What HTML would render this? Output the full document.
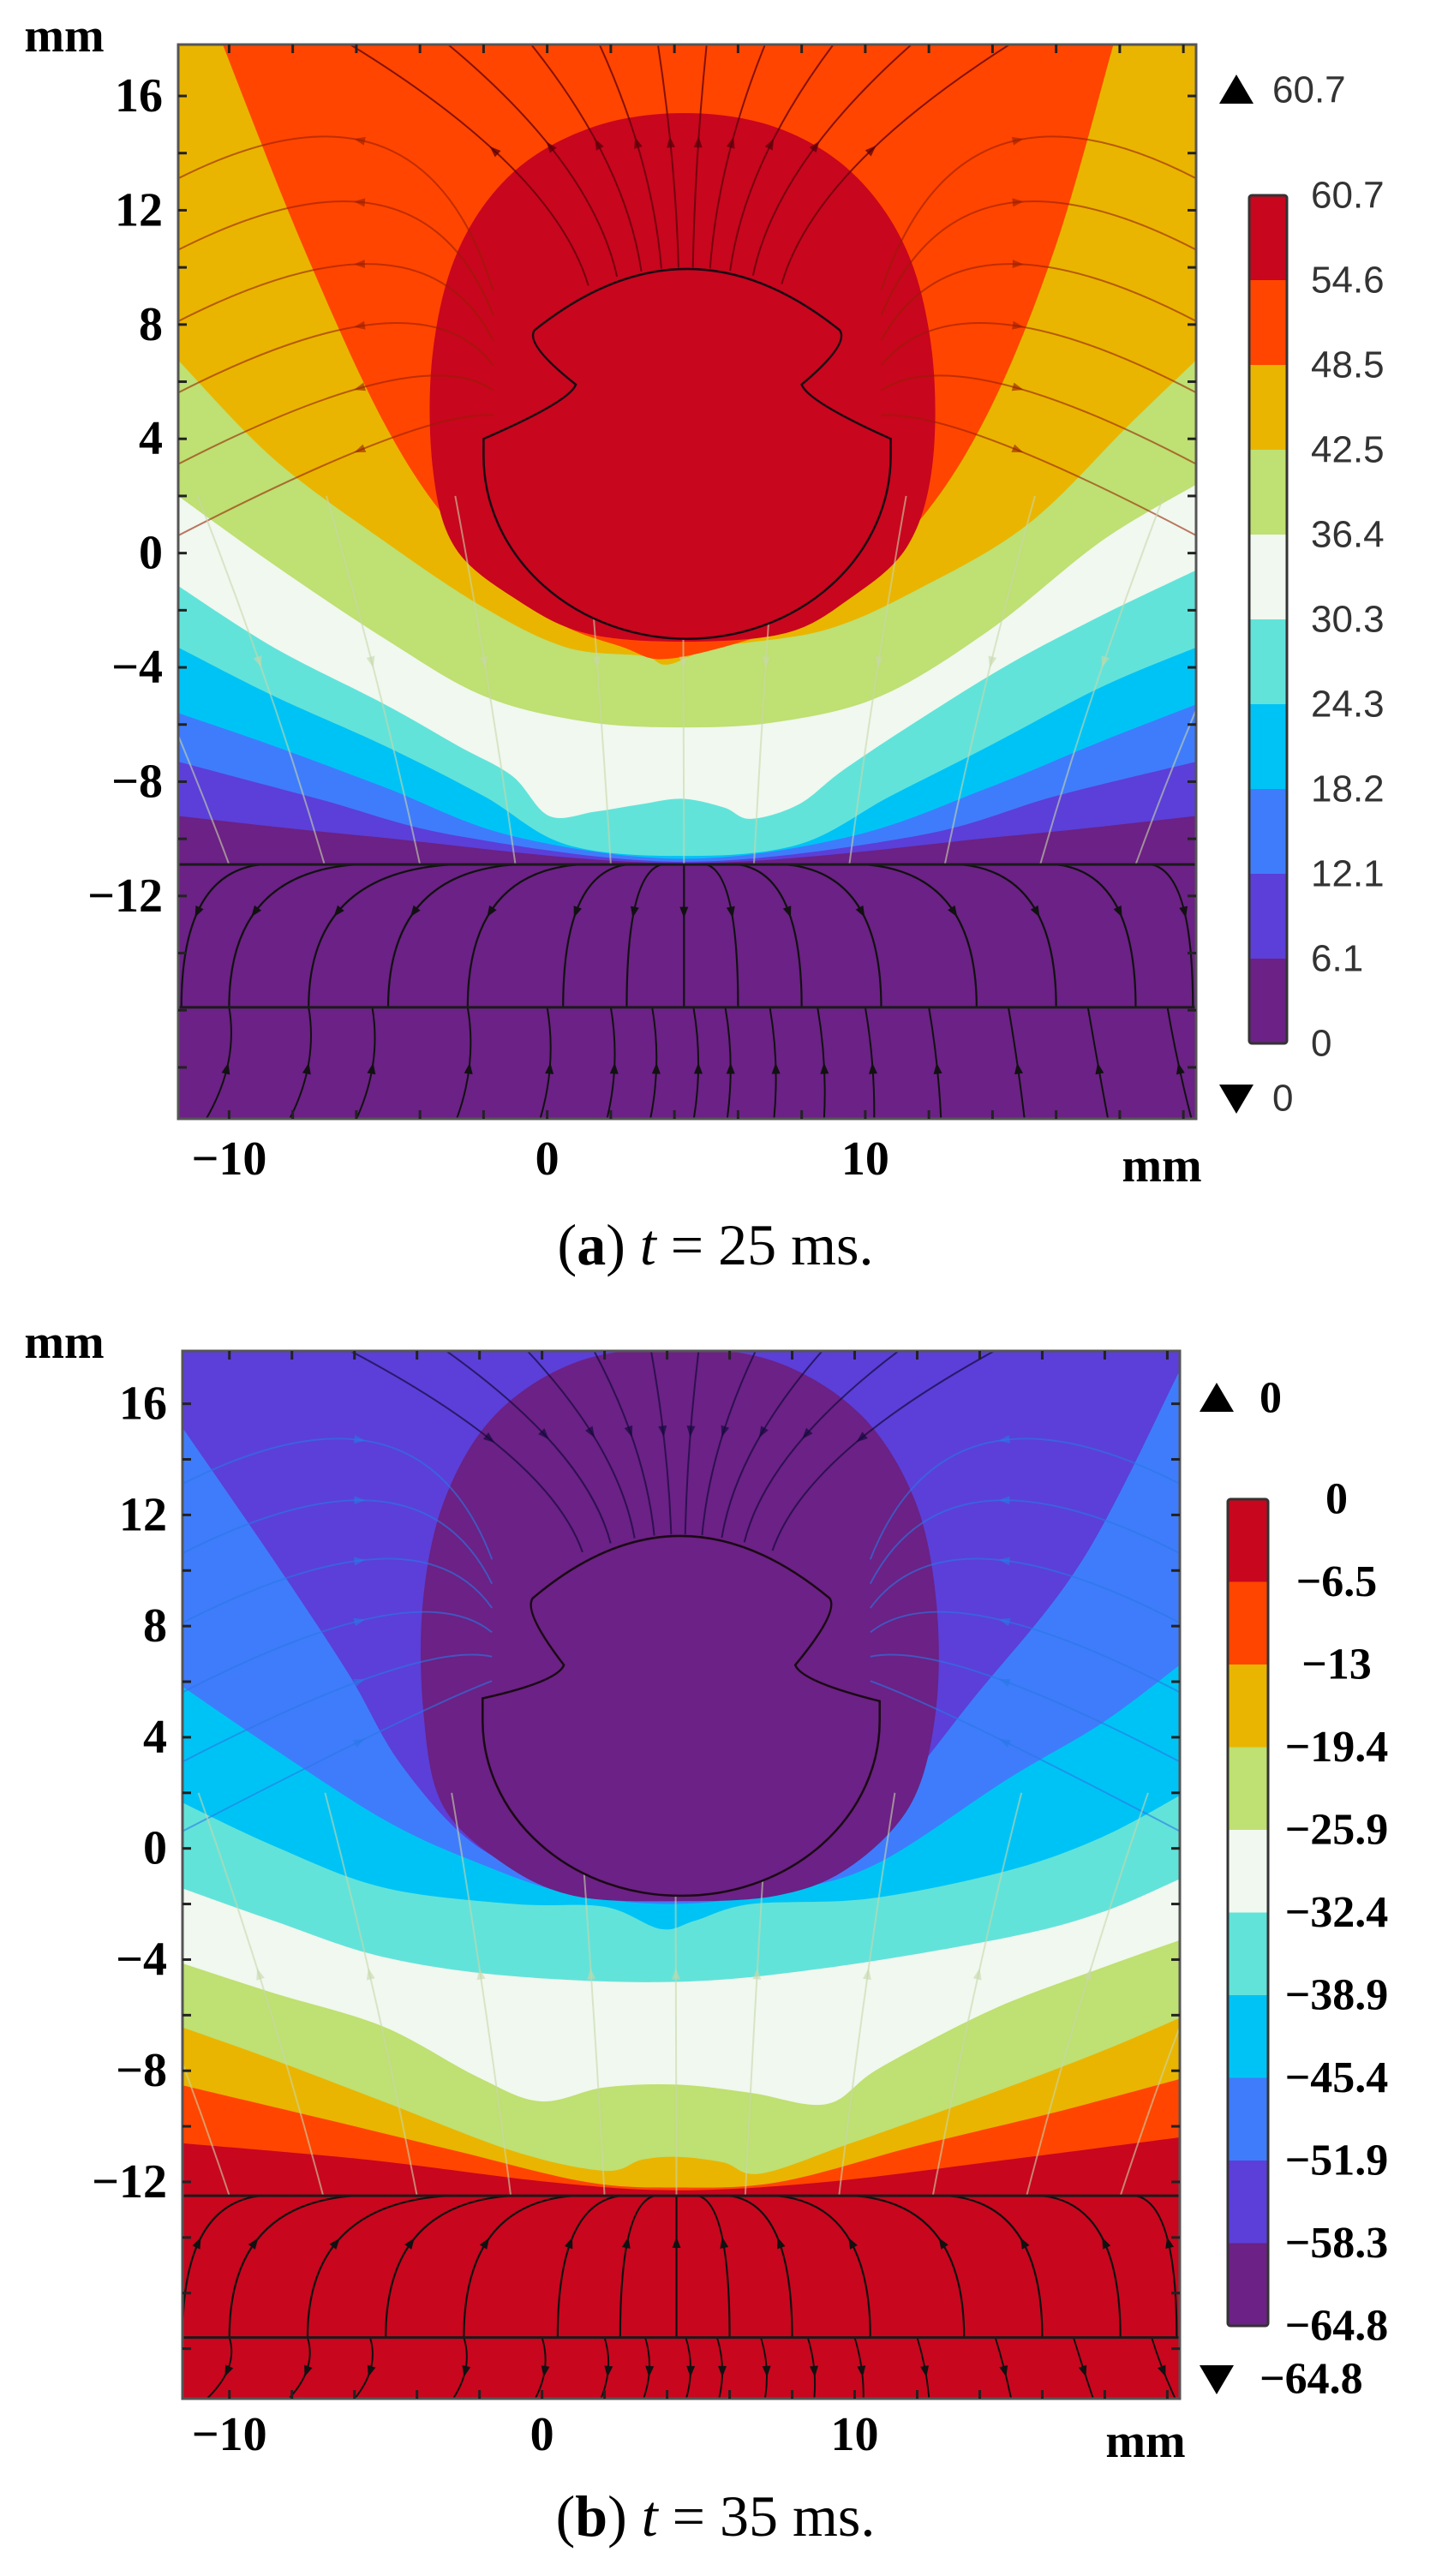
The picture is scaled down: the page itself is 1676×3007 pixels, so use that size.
<!DOCTYPE html>
<html><head><meta charset="utf-8"><style>
html,body{margin:0;padding:0;background:#fff;}
svg{display:block;}
</style></head><body>
<svg id="fig" width="1676" height="3007" viewBox="0 0 1676 3007" xmlns="http://www.w3.org/2000/svg"></svg>
<script>
// ---------- data: panel (a) ----------
const levelsA = ["60.7","54.6","48.5","42.5","36.4","30.3","24.3","18.2","12.1","6.1","0"];
const colorsA = ["#6b2185","#5b3fd8","#3f7cfb","#00c3f5","#62e3da","#f0f8ef","#bfe072","#e9b500","#ff4500","#c8061e"]; // low -> high
const bandA1 = [[-11.6,-9.2],[-5.7,-9.9],[4.3,-10.85],[14.5,-9.9],[20.4,-9.2]];
const bandA2 = [[-11.6,-7.3],[-7.2,-8.6],[-2.8,-9.9],[4.3,-10.8],[11.6,-9.9],[16,-8.5],[20.4,-7.3]];
const bandA3 = [[-11.6,-5.6],[-8.6,-6.75],[-5.1,-8.2],[-1.1,-9.9],[4.3,-10.7],[9.6,-9.9],[13.9,-8.2],[17.4,-6.6],[20.4,-5.3]];
const bandA4 = [[-11.6,-3.3],[-8.6,-5.0],[-5.1,-6.75],[-2,-8.5],[0.6,-10.2],[4.25,-10.6],[7.9,-10.2],[10.8,-8.5],[13.9,-6.75],[17.4,-4.7],[20.4,-3.3]];
const bandA5 = [[-11.6,-1.15],[-8.6,-3.3],[-5.1,-5.3],[-2.8,-6.75],[-1.1,-7.8],[0.06,-9.2],[1.5,-9.05],[2.9,-8.8],[4.25,-8.6],[5.55,-8.9],[6.4,-9.3],[7.9,-8.8],[9.3,-7.6],[11.6,-5.9],[14.5,-3.9],[17.4,-2.2],[20.4,-0.6]];
const bandA6 = [[-11.6,2.0],[-8.6,-0.4],[-5.1,-3.0],[-2,-5.0],[1.2,-5.9],[4.25,-6.1],[7.3,-5.9],[10.5,-5.0],[13.9,-2.7],[17.4,0.4],[20.4,2.4]];
const bandA7 = [[-11.6,6.75],[-8.6,3.3],[-5.1,0.4],[-2,-1.9],[0.6,-3.3],[3,-3.6],[3.8,-3.9],[5.3,-3.3],[8.7,-2.7],[11.6,-1.3],[15.1,1.0],[18.3,4.5],[20.4,6.75]];
const bandA8 = [[-10.2,17.8],[-7.7,10.8],[-5.1,4.5],[-2.8,0.7],[0,-2.2],[2.4,-3.3],[3.8,-3.7],[6.7,-2.9],[8.7,-1.9],[11.6,1],[13.9,5],[16,10.8],[17.8,17.8]];
const blobA = [[4.3,15.4],[7.2,14.9],[9.6,13.3],[11.3,10.6],[12.1,7],[12.1,3],[11.3,0.2],[9.5,-1.6],[7.5,-2.8],[4.3,-3.1],[1.2,-2.8],[-1,-1.6],[-2.9,0.2],[-3.6,3],[-3.6,7],[-2.8,10.6],[-1.1,13.3],[1.4,14.9]];
const objA = {cx:4.4, cy:3.4, r:6.4, top:10.0, tl:[-0.4,7.8], ti:[0.9,5.9], lc:[-2.0,4.0], tr:[9.2,7.8], ri:[8.0,5.9], rc:[10.8,4.0]};
const linesA = [-10.9,-15.9];

// ---------- data: panel (b) ----------
const levelsB = ["0","\u22126.5","\u221213","\u221219.4","\u221225.9","\u221232.4","\u221238.9","\u221245.4","\u221251.9","\u221258.3","\u221264.8"];
const colorsB = ["#c8061e","#ff4500","#e9b500","#bfe072","#f0f8ef","#62e3da","#00c3f5","#3f7cfb","#5b3fd8","#6b2185"];
const colorsBbar = ["#c8061e","#ff4500","#e9b500","#bfe072","#f0f8ef","#62e3da","#00c3f5","#3f7cfb","#5b3fd8","#6b2185"];
const bandB1 = [[-11.6,-10.6],[-5.6,-11.2],[0.2,-12.0],[4.35,-12.3],[9.1,-12.0],[14.9,-11.2],[20.4,-10.4]];
const bandB2 = [[-11.6,-8.5],[-7.1,-9.7],[-2.7,-10.9],[1.4,-12.0],[4.35,-12.2],[7.6,-12.0],[12,-10.7],[16.4,-9.5],[20.4,-8.3]];
const bandB3 = [[-11.6,-6.4],[-8.6,-7.6],[-5.1,-9.1],[-0.9,-10.9],[2,-11.6],[3.2,-11.2],[4.35,-11.1],[5.8,-11.3],[7,-11.7],[9.9,-10.6],[14.4,-8.8],[17.9,-7.3],[20.4,-6.1]];
const bandB4 = [[-11.6,-4.1],[-8.6,-5.2],[-5.1,-6.4],[-2.1,-8.2],[-0.06,-9.1],[2,-8.6],[4.35,-8.5],[6.7,-8.8],[9.1,-9.2],[10.8,-7.9],[14.4,-5.8],[17.9,-4.3],[20.4,-3.3]];
const bandB5 = [[-11.6,-1.4],[-8.6,-2.6],[-5.1,-3.9],[-0.9,-4.6],[4.35,-4.8],[9.1,-4.3],[14.9,-3.2],[17.9,-2.3],[20.4,-1.1]];
const bandB6 = [[-11.6,1.7],[-8.6,0.1],[-5.1,-1.4],[-0.9,-2.0],[2,-2.1],[3.8,-2.9],[4.9,-2.6],[6.7,-2.0],[10.5,-1.8],[14.9,-0.8],[17.9,0.4],[20.4,1.9]];
const bandB7 = [[-11.6,5.9],[-8.6,3.6],[-5,1.0],[-2.1,-0.5],[0.8,-1.6],[4.3,-2.0],[7.9,-1.5],[10.8,-0.5],[14.9,2.5],[17.9,4.5],[20.4,6.6]];
const bandB8 = [[-11.6,15.3],[-8.6,10.4],[-6.2,6.3],[-4.5,3.0],[-2.1,0.1],[0.8,-1.2],[4.3,-1.5],[7.9,-1.1],[10.8,1.3],[13.8,5.4],[17.3,10.4],[20.4,17.2]];
const blobB = [[4.3,18.0],[7.5,17.5],[10.2,15.6],[11.9,12.6],[12.6,9],[12.6,5],[11.8,1.6],[9.8,-0.7],[7.5,-1.7],[4.3,-1.9],[1,-1.7],[-1.3,-0.5],[-3.2,1.6],[-3.8,5],[-3.8,9],[-3.1,12.6],[-1.5,15.6],[1.1,17.5]];
const objB = {cx:4.4, cy:4.6, r:6.3, top:11.3, tl:[-0.3,9.0], ti:[0.7,6.6], lc:[-1.9,5.4], tr:[9.2,9.0], ri:[8.1,6.6], rc:[10.8,5.3]};
const linesB = [-12.5,-17.6];

const xTicks = [-10,0,10];
const yTicks = [16,12,8,4,0,-4,-8,-12];
const fanStartA = [-9,-6,-3,-1,1,2.5,3.6,4.3,5,6,7.5,10,13,16,19];
const fanEndA   = [-11.5,-10,-7.5,-5,-2.5,0.5,2.5,4.3,6,8,10.5,13.5,16,18.5,20.3];
const stripXA = [-10,-7.5,-5.5,-2.5,0,2,3.3,4.6,5.6,7,8.5,10,12,14.5,17,19.5];
const topEndA = [-2.5,-0.5,1.2,2.6,3.8,4.8,6,7.4,9,11];
const sideArcYA = [16,13.5,11,8.5,6,3.5];

const NS="http://www.w3.org/2000/svg";
const svg=document.getElementById('fig');
function el(tag,attrs,parent){const e=document.createElementNS(NS,tag);for(const k in attrs)e.setAttribute(k,attrs[k]);(parent||svg).appendChild(e);return e;}

function makeAxes(p){
  p.sx=v=>p.left+(v-p.xmin)/(p.xmax-p.xmin)*(p.right-p.left);
  p.sy=v=>p.top+(p.ymax-v)/(p.ymax-p.ymin)*(p.bottom-p.top);
  return p;
}
function smoothPath(p,pts){
  const P=pts.map(q=>[p.sx(q[0]),p.sy(q[1])]);
  let d=`M${P[0][0]},${P[0][1]}`;
  for(let i=0;i<P.length-1;i++){
    const p0=P[Math.max(0,i-1)],p1=P[i],p2=P[i+1],p3=P[Math.min(P.length-1,i+2)];
    const c1=[p1[0]+(p2[0]-p0[0])/6,p1[1]+(p2[1]-p0[1])/6];
    const c2=[p2[0]-(p3[0]-p1[0])/6,p2[1]-(p3[1]-p1[1])/6];
    d+=` C${c1[0]},${c1[1]} ${c2[0]},${c2[1]} ${p2[0]},${p2[1]}`;
  }
  return d;
}
function regionAbove(p,pts){
  const d=smoothPath(p,pts);
  const last=pts[pts.length-1],first=pts[0];
  return d+` L${p.sx(p.xmax)+5},${p.sy(last[1])} L${p.sx(p.xmax)+5},${p.top-40} L${p.sx(p.xmin)-5},${p.top-40} L${p.sx(p.xmin)-5},${p.sy(first[1])} Z`;
}
function closedSmooth(p,pts){
  const P=pts.map(q=>[p.sx(q[0]),p.sy(q[1])]);const n=P.length;
  let d=`M${P[0][0]},${P[0][1]}`;
  for(let i=0;i<n;i++){
    const p0=P[(i-1+n)%n],p1=P[i],p2=P[(i+1)%n],p3=P[(i+2)%n];
    d+=` C${p1[0]+(p2[0]-p0[0])/6},${p1[1]+(p2[1]-p0[1])/6} ${p2[0]-(p3[0]-p1[0])/6},${p2[1]-(p3[1]-p1[1])/6} ${p2[0]},${p2[1]}`;
  }
  return d+'Z';
}
function objectPath(p,o){
  const X=p.sx,Y=p.sy;
  const rpx=o.r*(p.right-p.left)/(p.xmax-p.xmin), rpy=o.r*(p.bottom-p.top)/(p.ymax-p.ymin);
  let d=`M${X(o.tl[0])},${Y(o.tl[1])}`;
  d+=` Q${X(o.cx)},${Y(o.top+(o.top-o.tl[1])*0.95)} ${X(o.tr[0])},${Y(o.tr[1])}`;
  d+=` Q${X(o.tr[0]+0.3)},${Y(o.tr[1]-0.5)} ${X(o.ri[0])},${Y(o.ri[1])}`;
  d+=` Q${X(o.ri[0]+0.2)},${Y(o.ri[1]-0.6)} ${X(o.rc[0])},${Y(o.rc[1])}`;
  d+=` L${X(o.rc[0])},${Y(o.cy)}`;
  d+=` A${rpx},${rpy} 0 0 1 ${X(o.cx)},${Y(o.cy-o.r)}`;
  d+=` A${rpx},${rpy} 0 0 1 ${X(o.lc[0])},${Y(o.cy)}`;
  d+=` L${X(o.lc[0])},${Y(o.lc[1])}`;
  d+=` Q${X(o.ti[0]-0.2)},${Y(o.ti[1]-0.6)} ${X(o.ti[0])},${Y(o.ti[1])}`;
  d+=` Q${X(o.tl[0]-0.3)},${Y(o.tl[1]-0.5)} ${X(o.tl[0])},${Y(o.tl[1])} Z`;
  return d;
}
function arrowAt(g,x,y,ang,col,name){
  const a=el('path',{d:`M${x+7*Math.cos(ang)},${y+7*Math.sin(ang)} L${x-6*Math.cos(ang)+5*Math.sin(ang)},${y-6*Math.sin(ang)-5*Math.cos(ang)} L${x-6*Math.cos(ang)-5*Math.sin(ang)},${y-6*Math.sin(ang)+5*Math.cos(ang)} Z`,fill:col},g);
  
  
}
function quadLine(g,p,x1,y1,cx,cy,x2,y2,col,w,name,arrowDir){
  const d=`M${p.sx(x1)},${p.sy(y1)} Q${p.sx(cx)},${p.sy(cy)} ${p.sx(x2)},${p.sy(y2)}`;
  const l=el('path',{d:d,fill:'none',stroke:col,'stroke-width':w},g);
  
  
  const t=0.55;const X=(a,b,c)=>(1-t)*(1-t)*a+2*(1-t)*t*b+t*t*c;
  const ax=X(p.sx(x1),p.sx(cx),p.sx(x2)),ay=X(p.sy(y1),p.sy(cy),p.sy(y2));
  const dx=2*(1-t)*(p.sx(cx)-p.sx(x1))+2*t*(p.sx(x2)-p.sx(cx));
  const dy=2*(1-t)*(p.sy(cy)-p.sy(y1))+2*t*(p.sy(y2)-p.sy(cy));
  let ang=Math.atan2(dy,dx); if(arrowDir<0) ang+=Math.PI;
  arrowAt(g,ax,ay,ang,col,'streamline-arrow');
}

function drawPanel(p,cfg){
  const g=el('g',{},svg);
  
  
  const cid='clip-'+cfg.id;
  const cp=el('clipPath',{id:cid},el('defs',{},g));
  el('rect',{x:p.left,y:p.top,width:p.right-p.left,height:p.bottom-p.top},cp);
  const f=el('g',{'clip-path':`url(#${cid})`},g);
  
  
  const base=el('rect',{x:p.left,y:p.top,width:p.right-p.left,height:p.bottom-p.top,fill:cfg.colors[0]},f);
  
  
  cfg.bands.forEach((b,i)=>{
    const pa=el('path',{d:regionAbove(p,b),fill:cfg.colors[i+1]},f);
    
    
  });
  const bl=el('path',{d:closedSmooth(p,cfg.blob),fill:cfg.blobColor},f);
  
  
  const low=el('rect',{x:p.left,y:p.sy(cfg.lines[0]),width:p.right-p.left,height:p.bottom-p.sy(cfg.lines[0]),fill:cfg.lowColor},f);
  
  
  const sg=el('g',{},f);
  
  
  const o=cfg.obj;
  topEndA.forEach((xe,i)=>{
    const xs=o.cx+(xe-o.cx)*0.45;
    const ys=o.top-Math.pow((xs-o.cx)/5.5,2)*2.0;
    quadLine(sg,p,xs,ys,xs+(xe-xs)*0.3,(ys+p.ymax)/2,xe+(xe-o.cx)*0.6,p.ymax+0.3,cfg.upStroke,2,'streamline-top',cfg.upDir);
  });
  sideArcYA.forEach((yy,i)=>{
    quadLine(sg,p,o.lc[0]+0.3,o.cy+ (yy-8)*0.35+3,-4,yy+1.5,p.xmin-0.2,yy-3,cfg.sideStroke,2,'streamline-side-left',cfg.upDir);
    quadLine(sg,p,o.rc[0]-0.3,o.cy+(yy-8)*0.35+3,13,yy+1.5,p.xmax+0.2,yy-3,cfg.sideStroke,2,'streamline-side-right',cfg.upDir);
  });
  [-10,-7,-4,-1,2,4.3,6.5,9.5,12.5,15.5,18.5].forEach(x=>{
    quadLine(sg,p,x,cfg.lines[0],x+(x-o.cx)*0.15,(cfg.lines[0]+2)/2,x+(x-o.cx)*0.35,2,cfg.midStroke,2,'streamline-mid',-cfg.upDir);
  });
  fanStartA.forEach((xs,i)=>{
    const xe=fanEndA[i];
    quadLine(sg,p,xs,cfg.lines[0],xe,cfg.lines[0]-0.3,xe,cfg.lines[1],'#111',2.2,'streamline-lower',cfg.lowDir);
  });
  stripXA.forEach(x=>{
    quadLine(sg,p,x,cfg.lines[1],x+0.3,(cfg.lines[1]+p.ymin)/2,x+(x-o.cx)*0.05,p.ymin,'#111',2,'streamline-bottom',-cfg.lowDir);
  });
  const ob=el('path',{d:objectPath(p,o),fill:cfg.blobColor,stroke:'#1a0a14','stroke-width':2.5},f);
  
  
  cfg.lines.forEach(y=>{
    const l=el('line',{x1:p.left,x2:p.right,y1:p.sy(y),y2:p.sy(y),stroke:'#1a1a1a','stroke-width':3},f);
    
    
  });
  const fr=el('rect',{x:p.left,y:p.top,width:p.right-p.left,height:p.bottom-p.top,fill:'none',stroke:'#555','stroke-width':3},g);
  
  
  for(let v=-20;v<=18;v+=2){ if(v<p.ymin||v>p.ymax)continue;
    const t1=el('line',{x1:p.left,x2:p.left+10,y1:p.sy(v),y2:p.sy(v),stroke:'#222','stroke-width':3},g);
     
    const t2=el('line',{x1:p.right-10,x2:p.right,y1:p.sy(v),y2:p.sy(v),stroke:'#222','stroke-width':3},g);
     
  }
  for(let v=-10;v<=20;v+=2){
    const t1=el('line',{x1:p.sx(v),x2:p.sx(v),y1:p.top,y2:p.top+10,stroke:'#222','stroke-width':3},g);
     
    const t2=el('line',{x1:p.sx(v),x2:p.sx(v),y1:p.bottom-10,y2:p.bottom,stroke:'#222','stroke-width':3},g);
     
  }
  const serif='font-family:"Liberation Serif",serif;font-weight:bold;';
  yTicks.forEach(v=>{
    const t=el('text',{x:p.left-18,y:p.sy(v),'text-anchor':'end','dominant-baseline':'central',style:serif+'font-size:56px'},g);
    t.textContent=(v<0?'\u2212':'')+Math.abs(v);
     
  });
  xTicks.forEach(v=>{
    const t=el('text',{x:p.sx(v),y:cfg.xLabelY,'text-anchor':'middle','dominant-baseline':'central',style:serif+'font-size:56px'},g);
    t.textContent=(v<0?'\u2212':'')+Math.abs(v);
     
  });
  const mx=el('text',{x:p.right-40,y:cfg.xLabelY+8,'text-anchor':'middle','dominant-baseline':'central',style:serif+'font-size:56px'},g);
  mx.textContent='mm';  
  const my=el('text',{x:75,y:p.top-10,'text-anchor':'middle','dominant-baseline':'central',style:serif+'font-size:56px'},g);
  my.textContent='mm';  
  const cb=el('g',{},g);
   
  const n=cfg.barColors.length, segH=(cfg.cb.y2-cfg.cb.y1)/n;
  cfg.barColors.forEach((c,i)=>{
    const r=el('rect',{x:cfg.cb.x1,y:cfg.cb.y1+i*segH,width:cfg.cb.x2-cfg.cb.x1,height:segH+0.5,fill:c},cb);
     
  });
  const cbf=el('rect',{x:cfg.cb.x1,y:cfg.cb.y1,width:cfg.cb.x2-cfg.cb.x1,height:cfg.cb.y2-cfg.cb.y1,fill:'none',stroke:'#333','stroke-width':3,rx:3},cb);
   
  cfg.levels.forEach((lv,i)=>{
    const t=el('text',{x:cfg.cbLabelX,y:cfg.cb.y1+i*segH,'text-anchor':cfg.cbAnchor,'dominant-baseline':'central',style:cfg.cbFont},cb);
    t.textContent=lv;  
  });
  const tu=el('path',{d:`M${cfg.tri.x-20},${cfg.tri.up+16} L${cfg.tri.x+20},${cfg.tri.up+16} L${cfg.tri.x},${cfg.tri.up-18} Z`,fill:'#000'},g);
   
  const td=el('path',{d:`M${cfg.tri.x-20},${cfg.tri.down-16} L${cfg.tri.x+20},${cfg.tri.down-16} L${cfg.tri.x},${cfg.tri.down+18} Z`,fill:'#000'},g);
   
  const lu=el('text',{x:cfg.tri.lx,y:cfg.tri.up,'dominant-baseline':'central',style:cfg.triFont},g);
  lu.textContent=cfg.levels[0];  
  const ld=el('text',{x:cfg.tri.lx,y:cfg.tri.down,'dominant-baseline':'central',style:cfg.triFont},g);
  ld.textContent=cfg.levels[cfg.levels.length-1];  
  const cap=el('text',{x:835,y:cfg.capY,'text-anchor':'middle','dominant-baseline':'central',style:'font-family:"Liberation Serif",serif;font-size:68px'},g);
  cap.innerHTML=`(<tspan font-weight="bold">${cfg.capLetter}</tspan>) <tspan font-style="italic">t</tspan> = ${cfg.capT} ms.`;
   
}

const pA=makeAxes({left:208,right:1396,top:52,bottom:1306,xmin:-11.6,xmax:20.4,ymin:-19.8,ymax:17.8});
drawPanel(pA,{id:'a',name:'panel-a',colors:colorsA,bands:[bandA1,bandA2,bandA3,bandA4,bandA5,bandA6,bandA7,bandA8],
  blob:blobA,blobColor:'#c8061e',lowColor:'#6b2185',obj:objA,lines:linesA,
  upStroke:'rgba(90,0,10,0.75)',sideStroke:'rgba(150,30,0,0.6)',midStroke:'rgba(200,215,170,0.6)',upDir:1,lowDir:1,
  xLabelY:1353,barColors:colorsA.slice().reverse(),levels:levelsA,cb:{x1:1458,x2:1502,y1:228,y2:1218},
  cbLabelX:1530,cbAnchor:'start',cbFont:'font-family:"Liberation Sans",sans-serif;font-size:44px;fill:#333',
  tri:{x:1443,up:105,down:1282,lx:1485},triFont:'font-family:"Liberation Sans",sans-serif;font-size:44px;fill:#333',
  capY:1453,capLetter:'a',capT:'25'});

const pB=makeAxes({left:213,right:1377,top:1577,bottom:2800,xmin:-11.5,xmax:20.4,ymin:-19.8,ymax:17.9});
drawPanel(pB,{id:'b',name:'panel-b',colors:colorsB,bands:[bandB1,bandB2,bandB3,bandB4,bandB5,bandB6,bandB7,bandB8],
  blob:blobB,blobColor:'#6b2185',lowColor:'#c8061e',obj:objB,lines:linesB,
  upStroke:'rgba(20,10,60,0.7)',sideStroke:'rgba(40,120,230,0.6)',midStroke:'rgba(200,215,170,0.6)',upDir:-1,lowDir:-1,
  xLabelY:2842,barColors:colorsBbar,levels:levelsB,cb:{x1:1433,x2:1480,y1:1750,y2:2715},
  cbLabelX:1560,cbAnchor:'middle',cbFont:'font-family:"Liberation Serif",serif;font-weight:bold;font-size:52px;fill:#000',
  tri:{x:1420,up:1632,down:2777,lx:1470},triFont:'font-family:"Liberation Serif",serif;font-weight:bold;font-size:52px;fill:#000',
  capY:2937,capLetter:'b',capT:'35'});
</script>
</body></html>
